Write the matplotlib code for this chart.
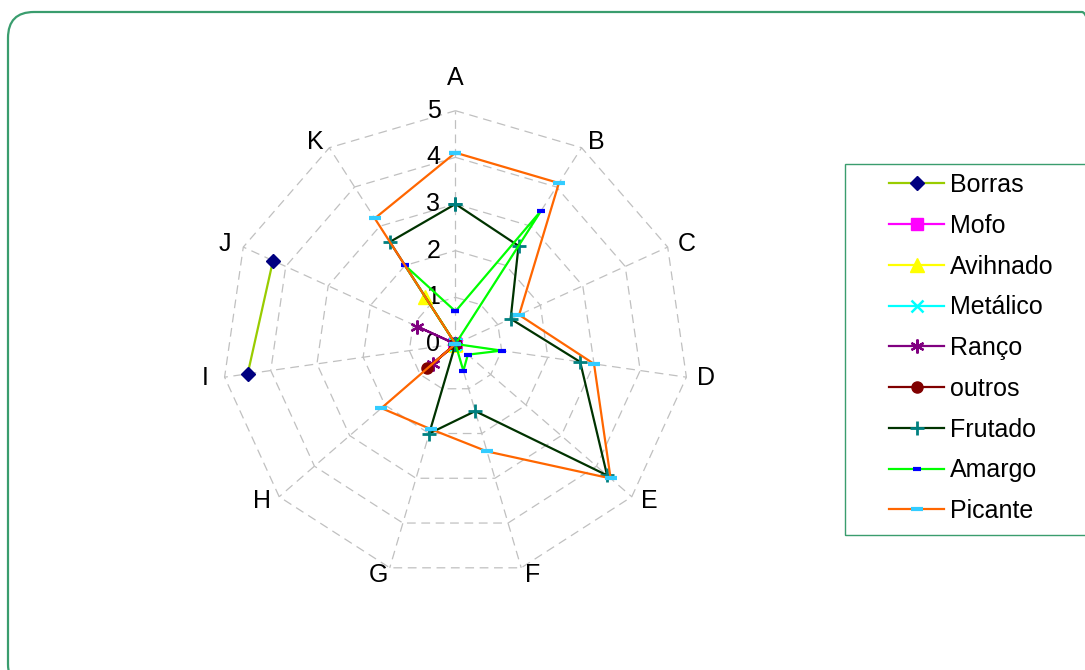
import numpy as np
import matplotlib
matplotlib.use("Agg")
import matplotlib.pyplot as plt
from matplotlib.patches import FancyBboxPatch, Rectangle
from matplotlib.transforms import IdentityTransform, offset_copy

plt.rcParams['font.family'] = ['Liberation Sans', 'DejaVu Sans']

# categories around the radar
cats = ['A', 'B', 'C', 'D', 'E', 'F', 'G', 'H', 'I', 'J', 'K']
nan = np.nan

# series values (A..K), blanks are nan
borras = [nan, nan, nan, nan, nan, nan, nan, nan, 4.5, 4.3, nan]
mofo = [0, 0, 0, 0, 0, 0, 0, 0, 0, 0, 0]
avihnado = [0, 0, 0, 0, 0, 0, 0, 0, 0, 0, 1.2]
metalico = [0, 0, 0, 0, 0, 0, 0, 0, 0, 0, 0]
ranco = [0, 0, 0, 0, 0, 0, 0, 0.65, 0, 0.9, 0]
outros = [0, 0, 0, 0, 0, 0, 0, 0.8, 0, 0, 0]
frutado = [3.0, 2.5, 1.3, 2.7, 4.3, 1.5, 2.0, 0, 0, 0, 2.6]
amargo = [0.7, 3.4, 0, 1.0, 0.35, 0.6, 0, 0, 0, 0, 2.0]
picante = [4.1, 4.1, 1.5, 3.0, 4.4, 2.4, 1.9, 2.1, 0, 0, 3.2]

series = [
    ('Borras', borras, dict(color='#99cc00', marker='D', ms=7.5, mfc='#000080', mec='#000080')),
    ('Mofo', mofo, dict(color='#ff00ff', marker='s', ms=8, mfc='#ff00ff', mec='#ff00ff')),
    ('Avihnado', avihnado, dict(color='#ffff00', marker='^', ms=10, mfc='#ffff00', mec='#ffff00')),
    ('Metálico', metalico, dict(color='#00ffff', marker='x', ms=9, mew=1.8, mec='#00ffff')),
    ('Ranço', ranco, dict(color='#800080', marker=(6, 2, 0), ms=10, mew=1.6, mec='#800080')),
    ('outros', outros, dict(color='#800000', marker='o', ms=8, mfc='#800000', mec='#800000')),
    ('Frutado', frutado, dict(color='#003300', marker='+', ms=10, mew=2, mec='#008080')),
    ('Amargo', amargo, dict(color='#00ff00', marker='_', ms=6, mew=3, mec='#0000ff')),
    ('Picante', picante, dict(color='#ff6600', marker='_', ms=9, mew=3, mec='#33ccff')),
]

green = '#3a9d6e'
fs = 18

fig = plt.figure(figsize=(10.85, 6.7), dpi=100)
ax = fig.add_axes([0.2048, 0.1384, 0.4300, 0.6964], projection='polar')
ax.set_theta_zero_location('N')
ax.set_theta_direction(-1)
ax.set_ylim(0, 5)
ax.grid(False)
ax.set_xticks([])
ax.set_yticks([])
ax.spines['polar'].set_visible(False)
ax.patch.set_alpha(0)

n = len(cats)
theta = np.arange(n) * 2 * np.pi / n
theta_c = np.append(theta, theta[0])

# polygon grid and spokes
for r in range(1, 6):
    ax.plot(theta_c, [r] * (n + 1), color='#c0c0c0', lw=0.9, dashes=(7, 4.5), clip_on=False, zorder=1)
for t in theta:
    ax.plot([t, t], [0, 5], color='#c0c0c0', lw=0.9, dashes=(7, 4.5), clip_on=False, zorder=1)

# radial labels left of the A spoke
tr = offset_copy(ax.transData, fig=fig, x=-15, y=0, units='dots')
for r in range(0, 6):
    ax.text(0, r, str(r), transform=tr, ha='right', va='center', fontsize=fs, zorder=2)

# category labels, pushed out sideways from the outer vertex like Excel does
for i, c in enumerate(cats):
    sx, sy = np.sin(theta[i]), np.cos(theta[i])
    if i == 0:
        dx, dy = 0, 33
    else:
        dx = np.sign(sx) * (8 + 12 * abs(sx))
        dy = 7 * sy
    t_lab = offset_copy(ax.transData, fig=fig, x=dx, y=dy, units='dots')
    ax.text(theta[i], 5, c, transform=t_lab, ha='center', va='center', fontsize=fs)

handles = []
for name, vals, st in series:
    v = np.append(vals, vals[0])
    h, = ax.plot(theta_c, v, lw=1.6, label=name, clip_on=False, zorder=3, **st)
    handles.append(h)

# figure border with rounded corners
fig.patches.append(FancyBboxPatch((8, -20), 1100, 658 + 20, boxstyle='round,pad=0,rounding_size=26',
                                  transform=IdentityTransform(), fill=False, ec=green, lw=1.6))
# legend frame
fig.patches.append(Rectangle((845, 135), 260, 371, transform=IdentityTransform(),
                             fill=False, ec=green, lw=1.0))
fig.legend(handles=handles, loc='upper left', bbox_to_anchor=(889 / 1085, 1 - 173 / 670),
           frameon=False, fontsize=fs, handlelength=2.2, handletextpad=0.24,
           labelspacing=0.67, borderpad=0, borderaxespad=0, numpoints=1)

fig.savefig('out.png', dpi=100)
